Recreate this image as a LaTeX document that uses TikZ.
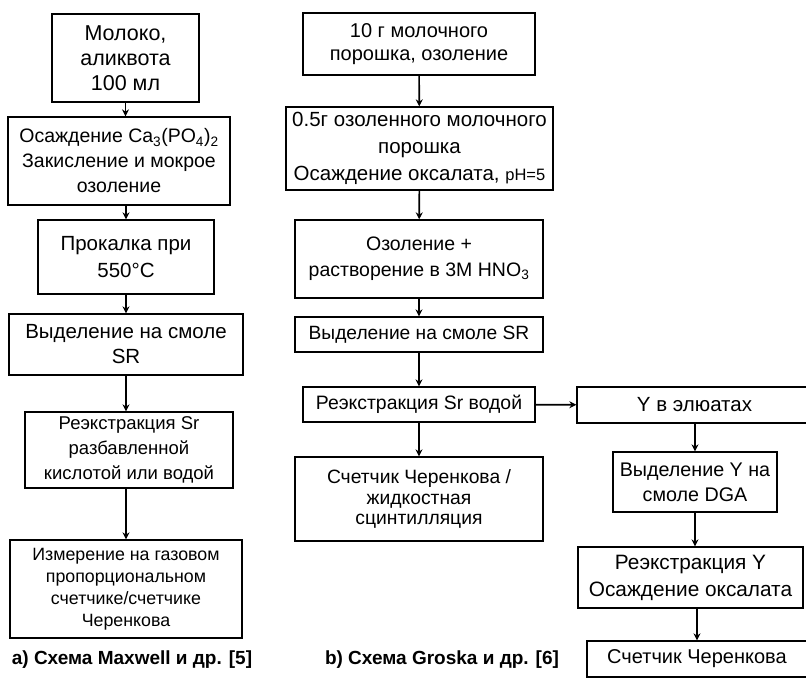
\documentclass[tikz,border=0pt]{standalone}
\usepackage{fontspec}
\setmainfont{Liberation Sans}
\usetikzlibrary{arrows.meta}

\tikzset{
  blk/.style={draw, line width=1.3pt, align=center, inner sep=1pt},
  arr/.style={line width=1.6pt, -{Stealth[length=7pt,width=7pt]}},
  capt/.style={font=\bfseries\fontsize{19}{22}\selectfont}
}
\newcommand{\fsz}[2]{\fontsize{#1}{#2}\selectfont}

\begin{document}
\begin{tikzpicture}[x=1pt, y=-1pt]
\useasboundingbox (0,0) rectangle (806,678);
% scheme a
\node[blk, minimum width=147, minimum height=88, font=\fsz{21.5}{25}] (a1) at (125.5,58) {Молоко,\\аликвота\\100 мл};
\node[blk, minimum width=222, minimum height=88, font=\fsz{19.5}{25}] (a2) at (119,161) {Осаждение Ca\textsubscript{3}(PO\textsubscript{4})\textsubscript{2}\\Закисление и мокрое\\озоление};
\node[blk, minimum width=176, minimum height=74, font=\fsz{20.5}{27}] (a3) at (126,257) {Прокалка при\\550°C};
\node[blk, minimum width=234, minimum height=61, font=\fsz{20.5}{25}] (a4) at (126,344.5) {Выделение на смоле\\SR};
\node[blk, minimum width=208, minimum height=76, font=\fsz{18.5}{25}] (a5) at (129,450) {Реэкстракция Sr\\разбавленной\\кислотой или водой};
\node[blk, minimum width=232, minimum height=98, font=\fsz{17.8}{22}] (a6) at (126,589) {Измерение на газовом\\пропорциональном\\счетчике/счетчике\\Черенкова};
\draw[arr] (a1.south) -- (a1.south |- a2.north);
\draw[arr] (a2.south -| a3) -- (a3.north);
\draw[arr] (a3.south) -- (a4.north);
\draw[arr] (a4.south) -- (a4.south |- a5.north);
\draw[arr] (a5.south -| a6) -- (a6.north);
\node[capt] (capa) at (132,660) {a) Схема Maxwell и др. [5]};
% scheme b
\node[blk, minimum width=232, minimum height=62, font=\fsz{20}{23}] (b1) at (419,44) {10 г молочного\\порошка, озоление};
\node[blk, minimum width=267, minimum height=83, font=\fsz{20.5}{27}] (b2) at (419.5,148.5) {0.5г озоленного молочного\\порошка\\Осаждение оксалата, {\fsz{16.5}{27}pH=5}};
\node[blk, minimum width=248, minimum height=78, font=\fsz{19.5}{26}] (b3) at (419,259) {Озоление +\\растворение в 3M HNO\textsubscript{3}};
\node[blk, minimum width=248, minimum height=35, font=\fsz{19.2}{22}] (b4) at (419,334.5) {Выделение на смоле SR};
\node[blk, minimum width=232, minimum height=35, font=\fsz{19.4}{22}] (b5) at (419,404.5) {Реэкстракция Sr водой};
\node[blk, minimum width=248, minimum height=84, font=\fsz{19.3}{20.5}] (b6) at (419,499) {Счетчик Черенкова /\\жидкостная\\сцинтилляция};
\draw[arr] (b1) -- (b2);
\draw[arr] (b2) -- (b3);
\draw[arr] (b3) -- (b4);
\draw[arr] (b4) -- (b5);
\draw[arr] (b5) -- (b6);
\node[capt] (capb) at (442,660) {b) Схема Groska и др. [6]};
% yttrium branch
\node[blk, minimum width=235, minimum height=36, font=\fsz{20.5}{22}] (c1) at (694.5,405) {Y в элюатах};
\node[blk, minimum width=164, minimum height=60, font=\fsz{19.7}{25}] (c2) at (695,482) {Выделение Y на\\смоле DGA};
\node[blk, minimum width=225, minimum height=61, font=\fsz{20.8}{27}] (c3) at (690.5,577.5) {Реэкстракция Y\\Осаждение оксалата};
\node[blk, minimum width=220, minimum height=36, font=\fsz{20}{22}] (c4) at (697,659) {Счетчик Черенкова};
\draw[arr] (b5) -- (c1);
\draw[arr] (c1.south -| c2) -- (c2.north);
\draw[arr] (c2.south) -- (c2.south |- c3.north);
\draw[arr, line width=2.4pt] (c3.south -| c4) -- (c4.north);
\end{tikzpicture}
\end{document}
